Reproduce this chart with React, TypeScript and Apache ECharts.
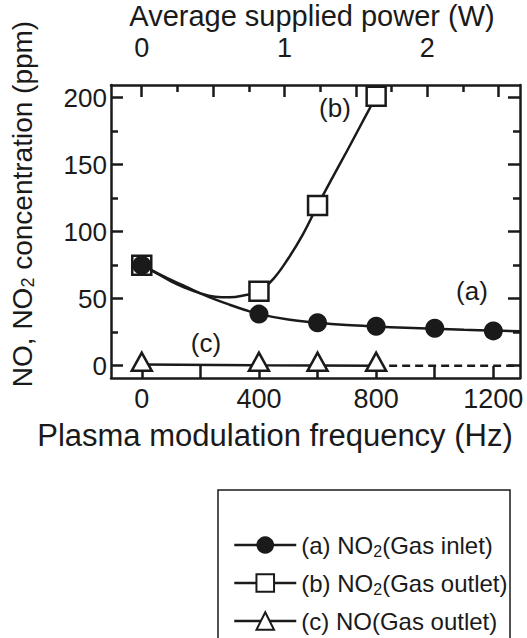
import React, { useEffect, useRef } from "react";
import * as echarts from "echarts";

// ---- data ----
const FREQ_A = [0, 400, 600, 800, 1000, 1200];
const NO2_INLET = [75, 38.5, 32, 29.5, 28, 26];
const FREQ_B = [0, 400, 600, 800];
const NO2_OUTLET = [75, 55.5, 119.5, 201];
const FREQ_C = [0, 400, 600, 800];
const NO_OUTLET = [3, 3, 3, 3];

// fitted curves
const FIT_A_FREQ = [0, 50, 100, 150, 200, 250, 300, 350, 400, 500, 600, 700, 800, 900, 1000, 1100, 1200, 1291];
const FIT_A = [75, 69.5, 64, 59, 54, 49.5, 45.5, 41.8, 38.5, 34.5, 32, 30.3, 29.2, 28.3, 27.5, 26.8, 26.2, 25.8];
const FIT_B_FREQ = [0, 50, 100, 150, 200, 250, 300, 350, 400, 450, 500, 550, 600, 650, 700, 750, 800, 818];
const FIT_B = [75, 69, 63, 58, 54, 51.5, 51, 52.5, 55.5, 65, 80, 98, 119.5, 140, 160, 180.5, 201, 209];
const FIT_C_FREQ = [0, 400, 800];
const FIT_C = [1, 0.3, 0];
const FIT_C_DASH_FREQ = [800, 1291];
const FIT_C_DASH = [0, 0];

// axes
const FREQ_TICKS = [0, 200, 400, 600, 800, 1000, 1200];
const FREQ_LABELS = [0, 400, 800, 1200];
const POWER_MAJOR = [0, 0.5, 1, 1.5, 2, 2.5];
const POWER_MINOR = [0.25, 0.75, 1.25, 1.75, 2.25];
const POWER_LABELS = [0, 1, 2];
const PPM_MAJOR = [0, 50, 100, 150, 200];
const PPM_MINOR = [25, 75, 125, 175];

const FREQ_MIN = -105;
const FREQ_MAX = 1291;
const POWER_MIN = -0.215;
const POWER_MAX = 2.65;
const PPM_MIN = -9.15;
const PPM_MAX = 209.4;

const FONT = "Liberation Sans";
const INK = "#1a1a1a";

const zip = (xs: number[], ys: number[]) => xs.map((x, i) => [x, ys[i]]);

export default function App() {
  const ref = useRef<HTMLDivElement>(null);
  useEffect(() => {
    if (!ref.current) return;
    const chart = echarts.init(ref.current, undefined, { renderer: "svg" });
    const axisLine = { show: true, onZero: false, lineStyle: { color: INK, width: 2.5 } };
    const hiddenLine = { show: false, onZero: false };
    const tick = (vals: number[], len: number) => ({
      show: true,
      inside: true,
      length: len,
      customValues: vals,
      lineStyle: { color: INK, width: 2.5 },
    });
    const noLabel = { show: false };
    const fmt = (v: number) => String(v);
    const baseX = { type: "value", min: FREQ_MIN, max: FREQ_MAX, splitLine: { show: false } };
    const baseTop = { type: "value", min: POWER_MIN, max: POWER_MAX, position: "top", splitLine: { show: false } };
    const baseY = { type: "value", min: PPM_MIN, max: PPM_MAX, splitLine: { show: false } };

    const option: any = {
      animation: false,
      grid: { left: 111, right: 7, top: 85, bottom: 260, containLabel: false, outerBoundsMode: "none" },
      xAxis: [
        {
          ...baseX,
          position: "bottom",
          axisLine,
          axisTick: tick(FREQ_TICKS, 12),
          axisLabel: {
            customValues: FREQ_LABELS,
            formatter: fmt,
            margin: 7,
            fontFamily: FONT,
            fontSize: 27,
            color: INK,
          },
        },
        {
          ...baseTop,
          axisLine,
          axisTick: tick(POWER_MAJOR, 12),
          axisLabel: {
            customValues: POWER_LABELS,
            formatter: fmt,
            margin: 24,
            fontFamily: FONT,
            fontSize: 27,
            color: INK,
          },
        },
        {
          ...baseTop,
          axisLine: hiddenLine,
          axisTick: tick(POWER_MINOR, 7),
          axisLabel: noLabel,
        },
      ],
      yAxis: [
        {
          ...baseY,
          position: "left",
          axisLine,
          axisTick: tick(PPM_MAJOR, 12),
          axisLabel: {
            customValues: PPM_MAJOR,
            formatter: fmt,
            margin: 4,
            fontFamily: FONT,
            fontSize: 26,
            color: INK,
          },
        },
        { ...baseY, position: "left", axisLine: hiddenLine, axisTick: tick(PPM_MINOR, 7), axisLabel: noLabel },
        { ...baseY, position: "right", axisLine, axisTick: tick(PPM_MAJOR, 12), axisLabel: noLabel },
        { ...baseY, position: "right", axisLine: hiddenLine, axisTick: tick(PPM_MINOR, 7), axisLabel: noLabel },
      ],
      legend: {
        orient: "vertical",
        left: 233,
        top: 533,
        data: ["(a)", "(b)", "(c)"],
        itemWidth: 62,
        itemHeight: 22,
        itemGap: 12,
        padding: 0,
        lineStyle: { color: INK, width: 2.5, opacity: 1, type: "solid" },
        formatter: (name: string) => {
          if (name === "(a)") return "{n|(a) NO}{s|2}{n|(Gas inlet)}";
          if (name === "(b)") return "{n|(b) NO}{s|2}{n|(Gas outlet)}";
          return "{n|(c) NO(Gas outlet)}";
        },
        textStyle: {
          fontFamily: FONT,
          color: INK,
          rich: {
            n: { fontFamily: FONT, fontSize: 24, color: INK, lineHeight: 28 },
            s: { fontFamily: FONT, fontSize: 16, color: INK, lineHeight: 14, verticalAlign: "bottom" },
          },
        },
      },
      series: [
        {
          type: "line",
          data: zip(FIT_A_FREQ, FIT_A),
          smooth: 0.4,
          symbol: "none",
          lineStyle: { color: INK, width: 2.5 },
          z: 2,
          silent: true,
        },
        {
          type: "line",
          data: zip(FIT_B_FREQ, FIT_B),
          smooth: 0.4,
          symbol: "none",
          lineStyle: { color: INK, width: 2.5 },
          z: 2,
          silent: true,
        },
        {
          type: "line",
          data: zip(FIT_C_FREQ, FIT_C),
          symbol: "none",
          lineStyle: { color: INK, width: 2.5 },
          z: 2,
          silent: true,
        },
        {
          type: "line",
          data: zip(FIT_C_DASH_FREQ, FIT_C_DASH),
          symbol: "none",
          lineStyle: { color: INK, width: 2.5, type: [8, 5] },
          z: 2,
          silent: true,
        },
        {
          name: "(c)",
          type: "line",
          data: zip(FREQ_C, NO_OUTLET),
          symbol: "triangle",
          symbolSize: [20, 18],
          showAllSymbol: true,
          lineStyle: { opacity: 0 },
          itemStyle: { color: "#fff", borderColor: INK, borderWidth: 2.5 },
          z: 3,
        },
        {
          name: "(b)",
          type: "line",
          data: zip(FREQ_B, NO2_OUTLET),
          symbol: "rect",
          symbolSize: 19,
          showAllSymbol: true,
          lineStyle: { opacity: 0 },
          itemStyle: { color: "#fff", borderColor: INK, borderWidth: 2.5 },
          z: 4,
        },
        {
          name: "(a)",
          type: "line",
          data: zip(FREQ_A, NO2_INLET),
          symbol: "circle",
          symbolSize: 19,
          showAllSymbol: true,
          lineStyle: { opacity: 0 },
          itemStyle: { color: INK, borderColor: INK, borderWidth: 0 },
          z: 5,
        },
      ],
      graphic: [
        {
          type: "rect",
          shape: { x: 218, y: 490, width: 292, height: 220 },
          style: { fill: "none", stroke: INK, lineWidth: 1.5 },
          silent: true,
        },
        {
          type: "text",
          x: 312,
          y: 16,
          style: {
            text: "Average supplied power (W)",
            font: `29px "${FONT}"`,
            fill: INK,
            align: "center",
            verticalAlign: "middle",
          },
        },
        {
          type: "text",
          x: 275,
          y: 435,
          style: {
            text: "Plasma modulation frequency (Hz)",
            font: `31px "${FONT}"`,
            fill: INK,
            align: "center",
            verticalAlign: "middle",
          },
        },
        {
          type: "text",
          x: 22,
          y: 204,
          rotation: Math.PI / 2,
          style: {
            text: "{n|NO, NO}{s|2}{n| concentration (ppm)}",
            align: "center",
            verticalAlign: "middle",
            fill: INK,
            rich: {
              n: { fontFamily: FONT, fontSize: 28, fill: INK, lineHeight: 30 },
              s: { fontFamily: FONT, fontSize: 18, fill: INK, lineHeight: 15, verticalAlign: "bottom" },
            },
          },
        },
        {
          type: "text",
          x: 335,
          y: 108,
          style: { text: "(b)", font: `26px "${FONT}"`, fill: INK, align: "center", verticalAlign: "middle" },
        },
        {
          type: "text",
          x: 472,
          y: 291,
          style: { text: "(a)", font: `26px "${FONT}"`, fill: INK, align: "center", verticalAlign: "middle" },
        },
        {
          type: "text",
          x: 206,
          y: 343,
          style: { text: "(c)", font: `26px "${FONT}"`, fill: INK, align: "center", verticalAlign: "middle" },
        },
      ],
    };
    chart.setOption(option);
    return () => chart.dispose();
  }, []);
  return <div ref={ref} style={{ width: 527, height: 638, position: "absolute", left: 0, top: 0 }} />;
}
